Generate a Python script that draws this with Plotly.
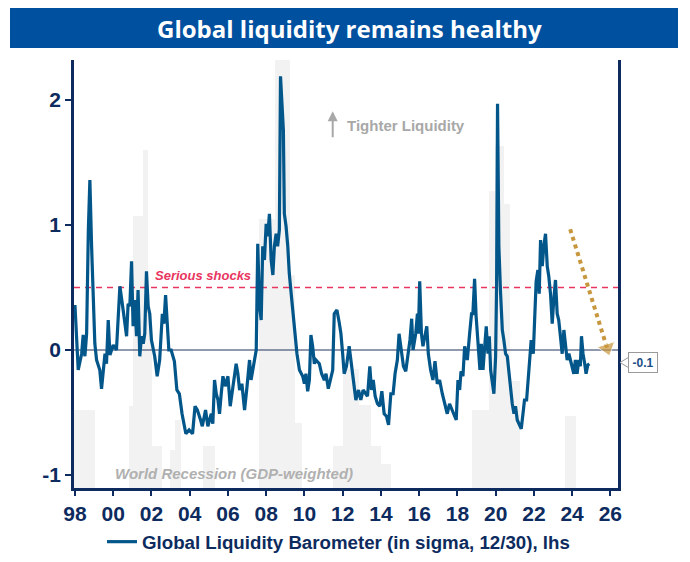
import plotly.graph_objects as go

# ---------------- data ----------------
years = [
    1998.0, 1998.09, 1998.17, 1998.35, 1998.43, 1998.52, 1998.61, 1998.7, 1998.78, 1998.87,
    1998.96, 1999.04, 1999.13, 1999.3, 1999.39, 1999.48, 1999.57, 1999.65, 1999.74, 1999.83,
    2000.0, 2000.17, 2000.26, 2000.35, 2000.52, 2000.7, 2000.78, 2000.87, 2000.96, 2001.04,
    2001.13, 2001.22, 2001.3, 2001.39, 2001.48, 2001.57, 2001.65, 2001.74, 2001.83, 2001.91,
    2002.0, 2002.17, 2002.3, 2002.43, 2002.57, 2002.65, 2002.74, 2002.83, 2002.91, 2003.03,
    2003.2, 2003.33, 2003.46, 2003.6, 2003.72, 2003.8, 2003.97, 2004.15, 2004.28, 2004.4,
    2004.57, 2004.66, 2004.83, 2004.95, 2005.13, 2005.21, 2005.3, 2005.39, 2005.48, 2005.56,
    2005.65, 2005.74, 2005.86, 2006.0, 2006.12, 2006.26, 2006.43, 2006.52, 2006.61, 2006.73,
    2006.87, 2007.0, 2007.13, 2007.21, 2007.35, 2007.48, 2007.56, 2007.65, 2007.74, 2007.82,
    2007.91, 2008.0, 2008.08, 2008.17, 2008.26, 2008.35, 2008.43, 2008.52, 2008.6, 2008.69,
    2008.75, 2008.83, 2008.9, 2008.95, 2009.04, 2009.13, 2009.21, 2009.34, 2009.48, 2009.61,
    2009.74, 2009.91, 2010.0, 2010.08, 2010.17, 2010.26, 2010.34, 2010.43, 2010.52, 2010.6,
    2010.78, 2010.9, 2011.04, 2011.13, 2011.25, 2011.35, 2011.48, 2011.56, 2011.7, 2011.82,
    2011.91, 2012.0, 2012.08, 2012.2, 2012.34, 2012.43, 2012.55, 2012.69, 2012.83, 2012.95,
    2013.07, 2013.21, 2013.3, 2013.42, 2013.51, 2013.6, 2013.7, 2013.82, 2013.94, 2014.05,
    2014.17, 2014.29, 2014.4, 2014.52, 2014.64, 2014.74, 2014.86, 2014.95, 2015.07, 2015.18,
    2015.3, 2015.44, 2015.52, 2015.61, 2015.68, 2015.82, 2015.91, 2015.96, 2016.03, 2016.12,
    2016.2, 2016.3, 2016.4, 2016.48, 2016.6, 2016.72, 2016.83, 2016.95, 2017.07, 2017.21,
    2017.35, 2017.47, 2017.59, 2017.73, 2017.87, 2017.94, 2018.03, 2018.12, 2018.19, 2018.29,
    2018.38, 2018.52, 2018.64, 2018.74, 2018.81, 2018.9, 2018.98, 2019.08, 2019.18, 2019.25,
    2019.34, 2019.43, 2019.51, 2019.6, 2019.67, 2019.74, 2019.83, 2019.91, 2020.0, 2020.05,
    2020.1, 2020.17, 2020.26, 2020.35, 2020.43, 2020.52, 2020.61, 2020.7, 2020.78, 2020.87,
    2020.96, 2021.04, 2021.13, 2021.25, 2021.34, 2021.43, 2021.51, 2021.62, 2021.7, 2021.79,
    2021.86, 2021.97, 2022.05, 2022.12, 2022.21, 2022.28, 2022.35, 2022.44, 2022.52, 2022.61,
    2022.7, 2022.78, 2022.87, 2022.96, 2023.04, 2023.13, 2023.22, 2023.3, 2023.39, 2023.48,
    2023.57, 2023.65, 2023.74, 2023.83, 2023.91, 2024.0, 2024.09, 2024.17, 2024.26, 2024.35,
    2024.43, 2024.49, 2024.57, 2024.66, 2024.73, 2024.82, 2024.9,
]
liquidity = [
    0.36, 0.11, -0.16, -0.03, 0.12, -0.05, 0.13, 0.96, 1.36, 0.83,
    0.45, 0.05, -0.08, -0.16, -0.31, -0.16, -0.03, -0.11, 0.24, -0.04,
    0.04, 0.0, 0.32, 0.51, 0.32, 0.11, 0.37, 0.35, 0.71, 0.19,
    0.40, 0.11, 0.48, -0.05, 0.11, 0.05, 0.13, 0.63, 0.35, 0.29,
    0.08, -0.05, -0.21, -0.08, 0.29, 0.21, 0.44, 0.19, 0.0, 0.0,
    -0.09, -0.32, -0.35, -0.51, -0.61, -0.67, -0.64, -0.67, -0.45, -0.48,
    -0.56, -0.61, -0.48, -0.61, -0.51, -0.59, -0.24, -0.35, -0.40, -0.51,
    -0.35, -0.21, -0.29, -0.21, -0.45, -0.29, -0.11, -0.19, -0.32, -0.27,
    -0.48, -0.29, -0.08, -0.24, -0.13, 0.0, 0.85, 0.35, 0.24, 0.83,
    0.72, 1.01, 0.91, 1.09, 0.72, 0.60, 0.83, 0.93, 0.83, 0.96,
    2.19, 1.92, 1.76, 1.09, 0.99, 0.83, 0.61, 0.40, 0.19, -0.03,
    -0.16, -0.21, -0.27, -0.19, -0.33, -0.24, 0.12, 0.03, -0.11, -0.08,
    -0.11, -0.19, -0.24, -0.19, -0.31, -0.24, -0.16, 0.29, 0.32, 0.22,
    0.13, -0.03, -0.19, -0.13, 0.03, -0.08, -0.24, -0.40, -0.32, -0.40,
    -0.32, -0.35, -0.37, -0.13, -0.32, -0.24, -0.37, -0.43, -0.45, -0.33,
    -0.51, -0.53, -0.60, -0.35, -0.35, -0.19, -0.08, 0.13, -0.03, -0.13,
    -0.17, -0.03, 0.08, 0.25, 0.0, 0.13, 0.29, 0.13, 0.55, 0.13,
    0.03, 0.11, 0.19, -0.03, -0.16, -0.24, -0.09, -0.27, -0.24, -0.35,
    -0.45, -0.51, -0.43, -0.48, -0.53, -0.56, -0.24, -0.32, -0.17, -0.21,
    0.03, -0.08, 0.13, 0.29, 0.29, 0.57, 0.27, 0.03, -0.16, 0.05,
    -0.16, 0.03, 0.19, -0.03, 0.11, -0.16, -0.27, -0.35, -0.05, 0.51,
    1.97, 0.83, 0.45, 0.16, 0.08, -0.03, -0.05, -0.19, -0.35, -0.43,
    -0.51, -0.45, -0.56, -0.61, -0.63, -0.51, -0.40, -0.40, -0.24, -0.08,
    0.08, -0.03, 0.37, 0.55, 0.64, 0.45, 0.88, 0.67, 0.83, 0.93,
    0.67, 0.59, 0.45, 0.21, 0.40, 0.56, 0.29, 0.24, 0.11, -0.03,
    0.16, 0.03, -0.08, -0.03, -0.08, -0.13, -0.19, -0.08, -0.19, -0.08,
    -0.13, 0.11, -0.03, -0.11, -0.19, -0.12, -0.11,
]

# World recession indicator (GDP-weighted), drawn as grey blocks
rec_start = [1997.9, 2000.8, 2001.03, 2001.55, 2001.8, 2002.05, 2002.95, 2003.25,
             2004.72, 2007.6, 2008.45, 2009.25, 2009.5, 2011.5, 2012.0, 2012.85,
             2013.5, 2014.0, 2018.75, 2019.65, 2019.95, 2020.45, 2020.75, 2023.65]
rec_end = [1999.05, 2001.03, 2001.55, 2001.8, 2002.05, 2002.55, 2003.25, 2003.55,
           2005.3, 2008.45, 2009.25, 2009.5, 2009.85, 2012.0, 2012.85, 2013.5,
           2014.0, 2014.55, 2019.65, 2019.95, 2020.45, 2020.75, 2021.25, 2024.2]
rec_level = [-0.48, -0.45, 1.07, 1.6, 0.3, -0.77, -0.8, -0.56,
             -0.77, 1.05, 2.32, 0.6, -0.58, -0.77, -0.15, -0.44,
             -0.77, -0.91, -0.48, 1.27, 1.63, 1.17, -0.25, -0.53]

x_tick_vals = list(range(1998, 2027, 2))
x_tick_text = ["98", "00", "02", "04", "06", "08", "10", "12", "14", "16",
               "18", "20", "22", "24", "26"]
y_tick_vals = [-1, 0, 1, 2]
y_tick_text = ["-1", "0", "1", "2"]

shock_level = 0.5
last_value_label = "-0.1"
last_value_pos = -0.1

# trend arrow (start, end) in data units
trend_x = [2023.9, 2025.83]
trend_y = [0.966, 0.015]

# ---------------- style ----------------
X_RANGE = [1997.95, 2026.4]
Y_RANGE = [-1.104, 2.32]
NAVY = "#0d2b5e"
LINE_BLUE = "#03568a"
PINK = "#e8365f"
GOLD = "#c8963c"
GREY_TXT = "#a8a8a8"
FONT = "Liberation Sans"

# the page body has an 8px margin on every side -> keep the figure inside the window
OFF = 8
W, H = 690 - 2 * OFF, 562 - 2 * OFF
ML = 74 - OFF
MT = 60 - OFF
MR = W - (618 - OFF)
MB = H - (488 - OFF)
PW, PH = W - ML - MR, H - MT - MB


def px_x(px):
    """page pixel x -> paper x"""
    return (px - OFF - ML) / PW


def px_y(py):
    """page pixel y -> paper y"""
    return 1 - (py - OFF - MT) / PH


fig = go.Figure()

fig.add_trace(go.Bar(
    x=[(s + e) / 2 for s, e in zip(rec_start, rec_end)],
    y=[lv - Y_RANGE[0] for lv in rec_level],
    base=Y_RANGE[0],
    width=[e - s for s, e in zip(rec_start, rec_end)],
    marker=dict(color="#f2f2f2", line=dict(width=0)),
    showlegend=False, hoverinfo="skip",
))

fig.add_trace(go.Scatter(
    x=X_RANGE, y=[0, 0], mode="lines",
    line=dict(color="#22335f", width=1), showlegend=False, hoverinfo="skip",
))
fig.add_trace(go.Scatter(
    x=X_RANGE, y=[shock_level, shock_level], mode="lines",
    line=dict(color=PINK, width=1.7, dash="6px,5px"), showlegend=False, hoverinfo="skip",
))

fig.add_trace(go.Scatter(
    x=years, y=liquidity, mode="lines",
    line=dict(color=LINE_BLUE, width=3.2),
    name="Global Liquidity Barometer (in sigma, 12/30), lhs",
))

fig.add_trace(go.Scatter(
    x=trend_x, y=trend_y, mode="lines+markers",
    line=dict(color=GOLD, width=4, dash="dot"),
    marker=dict(symbol="triangle-up", size=[0, 16], color=GOLD, angleref="previous"),
    showlegend=False, hoverinfo="skip",
))

# title bar
fig.add_shape(type="rect", xref="paper", yref="paper",
              x0=px_x(10), x1=px_x(678), y0=px_y(48), y1=px_y(8),
              fillcolor="#0050a0", line=dict(width=0), layer="above")

# pointer of the last-value callout
fig.add_shape(type="path", xref="paper", yref="y",
              xsizemode="pixel", ysizemode="pixel",
              xanchor=1, yanchor=last_value_pos,
              path="M 2 0 L 12 6 L 12 -6 Z",
              fillcolor="white", line=dict(color="#9a9a9a", width=1), layer="above")

annotations = [
    dict(text="Global liquidity remains healthy", xref="paper", yref="paper",
         x=px_x(349), y=px_y(29), showarrow=False, xanchor="center", yanchor="middle",
         font=dict(family="Open Sans", size=24, color="white", weight="bold")),
    dict(text="Serious shocks", xref="x", yref="y", x=2004.72, y=0.595,
         showarrow=False, xanchor="center", yanchor="middle",
         font=dict(family=FONT, size=13, color=PINK, weight="bold", style="italic")),
    dict(text="Tighter Liquidity", xref="x", yref="y", x=2015.32, y=1.8,
         showarrow=False, xanchor="center", yanchor="middle",
         font=dict(family=FONT, size=15, color=GREY_TXT, weight="bold")),
    dict(text="", xref="x", yref="y", x=2011.48, y=1.91, axref="x", ayref="y",
         ax=2011.48, ay=1.69, showarrow=True, arrowhead=2, arrowsize=1,
         arrowwidth=2, arrowcolor=GREY_TXT),
    dict(text="World Recession (GDP-weighted)", xref="x", yref="y", x=2006.32, y=-0.985,
         showarrow=False, xanchor="center", yanchor="middle",
         font=dict(family=FONT, size=15, color="#b0b0b0", weight="bold", style="italic")),
    dict(text=last_value_label, xref="paper", yref="y", x=px_x(642.5), y=last_value_pos,
         showarrow=False, xanchor="center", yanchor="middle",
         bgcolor="white", bordercolor="#9a9a9a", borderwidth=1, borderpad=2,
         width=24, height=15,
         font=dict(family=FONT, size=12, color="#1b4f86", weight="bold")),
]

fig.update_layout(
    width=W, height=H,
    margin=dict(l=ML, r=MR, t=MT, b=MB, autoexpand=False),
    plot_bgcolor="white", paper_bgcolor="white",
    barmode="overlay", bargap=0,
    xaxis=dict(range=X_RANGE, tickvals=x_tick_vals, ticktext=x_tick_text,
               showline=True, linecolor=NAVY, linewidth=2.5,
               ticks="outside", ticklen=5, tickwidth=1.5, tickcolor=NAVY,
               tickfont=dict(family=FONT, size=21, color=NAVY, weight="bold"),
               showgrid=False, zeroline=False, automargin=False),
    yaxis=dict(range=Y_RANGE, tickvals=y_tick_vals, ticktext=y_tick_text,
               showline=True, mirror=True, linecolor=NAVY, linewidth=2.5,
               ticks="outside", ticklen=6, tickwidth=1.5, tickcolor=NAVY,
               tickfont=dict(family=FONT, size=21, color=NAVY, weight="bold"),
               showgrid=False, zeroline=False, automargin=False),
    legend=dict(orientation="h", x=px_x(102), xanchor="left", y=px_y(542), yanchor="middle",
                font=dict(family=FONT, size=18.7, color=NAVY, weight="bold"),
                bgcolor="rgba(0,0,0,0)"),
    annotations=annotations,
)

fig.write_html("out.html")
